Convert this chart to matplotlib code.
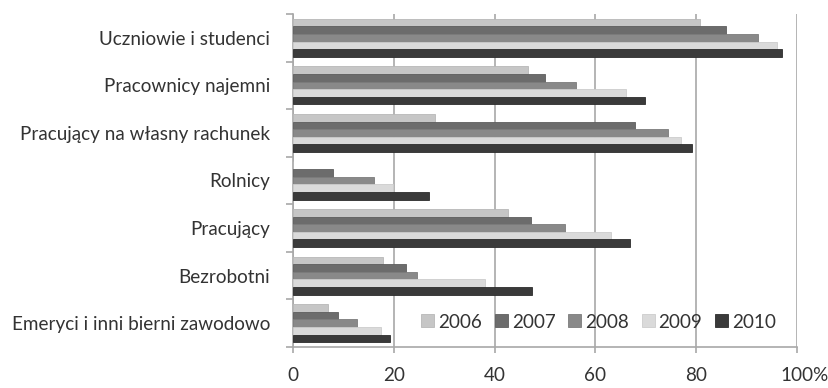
import numpy as np
import matplotlib.pyplot as plt

plt.rcParams['font.family'] = ['Lato', 'DejaVu Sans']

categories = ['Uczniowie i studenci', 'Pracownicy najemni', 'Pracujący na własny rachunek',
              'Rolnicy', 'Pracujący', 'Bezrobotni', 'Emeryci i inni bierni zawodowo']
years = ['2006', '2007', '2008', '2009', '2010']
v2006 = [80.8, 46.7, 28.1, 0.0, 42.7, 17.8, 7.0]
v2007 = [85.9, 50.0, 67.8, 8.0, 47.3, 22.4, 9.0]
v2008 = [92.2, 56.1, 74.5, 16.0, 53.9, 24.7, 12.8]
v2009 = [96.1, 66.0, 77.0, 19.9, 63.1, 38.0, 17.4]
v2010 = [97.1, 69.9, 79.2, 27.0, 66.9, 47.4, 19.2]
series = [v2006, v2007, v2008, v2009, v2010]
colors = ['#c6c6c6', '#6c6c6c', '#898989', '#dadada', '#3a3a3a']
edges = ['#b8b8b8', '#5e5e5e', '#7c7c7c', '#cccccc', '#2c2c2c']

fs = 13.6
fig = plt.figure(figsize=(8.29, 3.88), dpi=100)
ax = fig.add_axes([0.3534, 0.1057, 0.9614 - 0.3534, 0.9639 - 0.1057])

n = len(categories)
ypos = np.arange(n)
h = 0.16
for i, (vals, c, e) in enumerate(zip(series, colors, edges)):
    ax.barh(ypos - 2 * h + i * h, vals, height=h, color=c, edgecolor=e,
            linewidth=0.6, label=years[i], zorder=3)

ax.set_xlim(0, 100)
ax.set_ylim(n - 0.5, -0.5)
ax.set_xticks([0, 20, 40, 60, 80, 100])
ax.set_xticklabels(['0', '20', '40', '60', '80', '100'])
ax.set_yticks(ypos)
ax.set_yticklabels(categories)
ax.set_yticks(np.arange(-0.5, n, 1), minor=True)

ax.grid(axis='x', color='#a8a8a8', linewidth=1.2, zorder=0)
for s in ['top', 'right']:
    ax.spines[s].set_visible(False)
for s in ['left', 'bottom']:
    ax.spines[s].set_color('#a8a8a8')
    ax.spines[s].set_linewidth(1.2)

ax.tick_params(axis='y', which='major', length=0, pad=16.5, labelsize=fs, labelcolor='#333333')
ax.tick_params(axis='y', which='minor', length=5, width=1.2, color='#a8a8a8')
ax.tick_params(axis='x', length=4.3, width=1.2, color='#a8a8a8', pad=10,
               labelsize=fs, labelcolor='#333333')

# percent sign after the last tick label
ax.annotate('%', xy=(100, 0), xycoords=('data', 'axes fraction'),
            xytext=(11, -14.3), textcoords='offset points',
            ha='left', va='top', fontsize=fs, color='#333333')

ax.legend(loc='center right', bbox_to_anchor=(0.958, 0.075), ncol=5, frameon=False,
          fontsize=fs, handlelength=0.69, handleheight=0.69, handletextpad=0.2,
          columnspacing=0.68, borderaxespad=0, borderpad=0, labelcolor='#333333')

fig.savefig('out.png', dpi=100)
